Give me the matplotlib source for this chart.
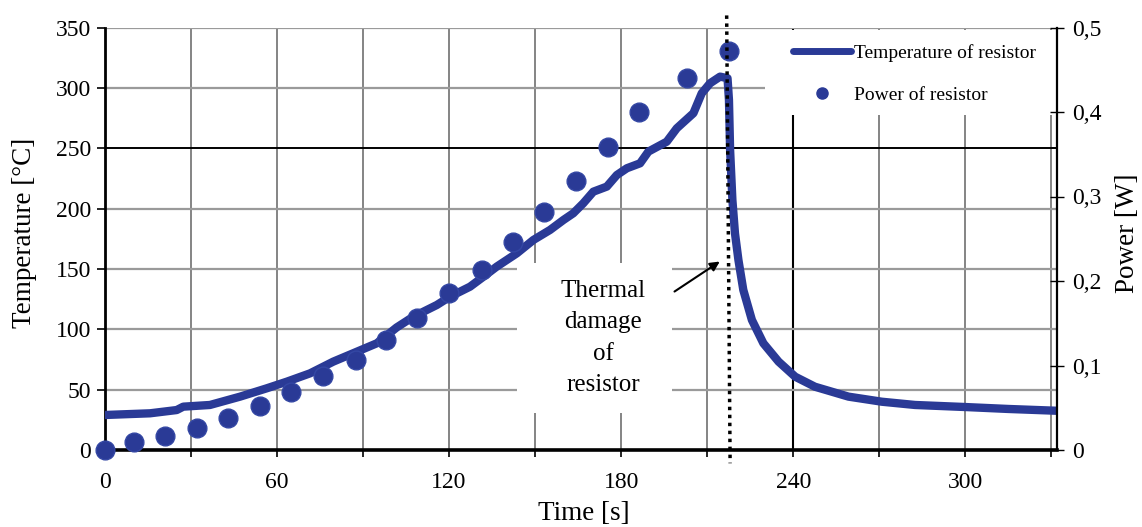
import matplotlib
matplotlib.use("Agg")
import matplotlib.pyplot as plt
from matplotlib.patches import Rectangle
from matplotlib.lines import Line2D

plt.rcParams['font.family'] = ['Liberation Serif', 'DejaVu Serif']

# ---- data ----
time_temp = [0, 15.7, 25, 27.3, 36.6, 47.1, 56.4, 63.4, 71.5, 79.6, 87.8, 94.8,
             101.7, 107.5, 115.7, 120.3, 127.3, 132, 136.6, 143.6, 149.4, 155.2,
             159.9, 163.3, 166.8, 170.3, 175, 178.5, 182, 186.6, 189.5, 195.9,
             199.4, 205.2, 208.1, 211, 214.5, 217.1, 217.6, 218.0, 218.8, 219.7,
             220.9, 222.6, 225.6, 229.6, 234.9, 240.7, 247.6, 259.3, 270.9, 282.5,
             300, 315, 332]
temperature = [29, 30.4, 33.1, 35.9, 37.3, 44.2, 51.1, 56.6, 63.5, 73.2, 81.4, 88.4,
               101.5, 110.4, 120.1, 127, 135.3, 143.6, 151.9, 162.9, 174, 182.3,
               190.6, 196.1, 204.4, 214, 218.2, 227.8, 233.4, 237.5, 247.2, 255.4,
               266.5, 279, 295.5, 303.8, 309.3, 308, 290, 248.5, 207, 179.5,
               157.4, 132.6, 107.7, 88.4, 73.2, 60.7, 52.4, 44.2, 40.0, 37.3,
               35.6, 34, 32.5]

time_power = [0, 10, 21, 32, 43, 54, 65, 76, 87.5, 98, 108.7, 120, 131.4, 142.3,
              153.2, 164.3, 175.5, 186.3, 203, 217.6]
power = [0, 0.0095, 0.0166, 0.026, 0.038, 0.052, 0.069, 0.087, 0.107, 0.13, 0.156,
         0.186, 0.213, 0.246, 0.282, 0.318, 0.359, 0.400, 0.440, 0.472]

x_ticks = list(range(0, 331, 30))
x_ticklabels = ['0', '', '60', '', '120', '', '180', '', '240', '', '300', '']
y_ticks = list(range(0, 351, 50))
y2_ticks = [0, 0.1, 0.2, 0.3, 0.4, 0.5]
y2_ticklabels = ['0', '0,1', '0,2', '0,3', '0,4', '0,5']

damage_time = 217.4
label_temp = 'Temperature of resistor'
label_power = 'Power of resistor'

BLUE = '#2a3a96'

# ---- figure ----
W, H = 1142, 527
fig = plt.figure(figsize=(W / 100, H / 100), dpi=100)
L, R, T, B = 105, 1057, 27.5, 450
ax = fig.add_axes([L / W, 1 - B / H, (R - L) / W, (B - T) / H])
ax.set_xlim(0, 332)
ax.set_ylim(0, 350)
ax.set_axisbelow(True)

ax.set_xticks(x_ticks)
ax.set_xticklabels(x_ticklabels)
ax.set_yticks(y_ticks)
ax.tick_params(axis='x', direction='out', length=5, width=1.2, pad=11, labelsize=17)
ax.tick_params(axis='y', direction='out', length=6, width=1.2, pad=4, labelsize=17)

ax.grid(True, color='#707070', lw=1.2)
for i, gl in enumerate(ax.get_ygridlines()):
    if y_ticks[i] == 250:
        gl.set_color('black'); gl.set_linewidth(1.4)
    else:
        gl.set_color('#9a9a9a'); gl.set_linewidth(1.6)
for i, gl in enumerate(ax.get_xgridlines()):
    if x_ticks[i] == 240:
        gl.set_color('black'); gl.set_linewidth(1.5)

for s in ['top', 'right']:
    ax.spines[s].set_visible(False)
ax.spines['left'].set_linewidth(2)
ax.spines['bottom'].set_linewidth(2.6)

# white areas behind legend and annotation
ax.add_patch(Rectangle((230.2, 277.5), 102, 70.5, facecolor='white', edgecolor='none', zorder=1))
ax.add_patch(Rectangle((143.7, 30.5), 54.1, 124.5, facecolor='white', edgecolor='none', zorder=1))

ax.plot(time_temp, temperature, color=BLUE, lw=6, solid_joinstyle='round',
        solid_capstyle='round', zorder=3)

ax.text(173.7, 92.8, 'Thermal\ndamage\nof\nresistor', ha='center', va='center',
        fontsize=18, linespacing=1.55, zorder=4)
ax.annotate('', xy=(215.2, 157.4), xytext=(197.8, 130),
            arrowprops=dict(arrowstyle='-|>', color='black', lw=1.5, mutation_scale=14),
            zorder=4)

ax2 = ax.twinx()
ax2.set_ylim(0, 0.5)
ax2.set_yticks(y2_ticks)
ax2.set_yticklabels(y2_ticklabels)
ax2.tick_params(axis='y', direction='inout', length=10, width=1.0, pad=6, labelsize=17)
for s in ['top', 'left', 'bottom']:
    ax2.spines[s].set_visible(False)
ax2.spines['right'].set_linewidth(1.6)

ax2.plot(time_power, power, 'o', color=BLUE, ms=13.5, mec='#3447a4', mew=1,
         clip_on=False, zorder=3)

# dotted line marking thermal damage
ax2.plot([damage_time - 0.6, damage_time + 0.6], [360, -11], transform=ax.transData,
         color='black', lw=2.5, ls=(0, (1, 1.3)), clip_on=False, zorder=5)

handles = [Line2D([], [], color=BLUE, lw=5, solid_capstyle='round'),
           Line2D([], [], color=BLUE, marker='o', ls='none', ms=8)]
ax2.legend(handles, [label_temp, label_power], loc='upper left',
           bbox_to_anchor=(793 / W, 1 - 44 / H), bbox_transform=fig.transFigure,
           frameon=False, fontsize=14, handlelength=3.0, handletextpad=0.15,
           labelspacing=1.25, borderpad=0, borderaxespad=0)

fig.text(584 / W, 1 - 513 / H, 'Time [s]', ha='center', va='center', fontsize=19.5)
fig.text(25 / W, 1 - 233 / H, 'Temperature [°C]', ha='center', va='center',
         rotation=90, fontsize=19.5)
fig.text(1128 / W, 1 - 233 / H, 'Power [W]', ha='center', va='center',
         rotation=90, fontsize=19.5)

fig.savefig('out.png', dpi=100)
